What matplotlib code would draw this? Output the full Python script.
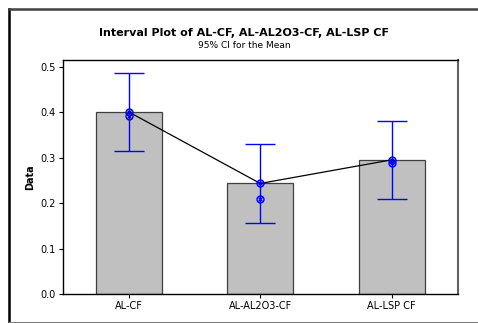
import matplotlib
matplotlib.use('Agg')
import matplotlib.pyplot as plt

groups = ['AL-CF', 'AL-AL2O3-CF', 'AL-LSP CF']
means = [0.401, 0.2435, 0.2955]
ci_low = [0.316, 0.157, 0.209]
ci_high = [0.486, 0.330, 0.382]
second = [0.393, 0.209, 0.288]

W, H = 478, 323
fig = plt.figure(figsize=(W / 100, H / 100), dpi=100)
fig.patch.set_facecolor('white')

# outer frame (top/left thick, bottom thin, right off-image)
fig.add_artist(plt.Line2D([9 / W, 9 / W], [1 - 9 / H, 1 - 322 / H], color='black', lw=1.8, transform=fig.transFigure))
fig.add_artist(plt.Line2D([9 / W, 1.0], [1 - 9 / H, 1 - 9 / H], color='#404040', lw=1.8, transform=fig.transFigure))
fig.add_artist(plt.Line2D([9 / W, 1.0], [1 - 322 / H, 1 - 322 / H], color='#808080', lw=0.8, transform=fig.transFigure))

ax = fig.add_axes([63 / W, 1 - 294 / H, (457.5 - 63) / W, (294 - 60) / H])
x = list(range(len(groups)))
ax.bar(x, means, width=0.5, color='#c0c0c0', edgecolor='#404040', linewidth=0.9, zorder=1)

yerr = [[m - l for m, l in zip(means, ci_low)], [h - m for m, h in zip(means, ci_high)]]
ax.errorbar(x, means, yerr=yerr, fmt='none', ecolor='#0000ff', elinewidth=1.0,
            capsize=10.5, capthick=1.0, zorder=3)
ax.plot(x, means, color='black', lw=0.9, zorder=2)
for yy in (means, second):
    ax.plot(x, yy, 'o', ms=5, mfc='none', mec='#0000ff', mew=1.0, zorder=4)
    ax.plot(x, yy, 'x', ms=3.2, mec='#0000ff', mew=0.9, zorder=4)

ax.set_xlim(-0.5, 2.5)
ax.set_ylim(0, 0.5154)
ax.set_yticks([0.0, 0.1, 0.2, 0.3, 0.4, 0.5])
ax.set_yticklabels(['0.0', '0.1', '0.2', '0.3', '0.4', '0.5'])
ax.set_xticks(x)
ax.set_xticklabels(groups)
ax.tick_params(labelsize=7, length=3, width=0.8, direction='out', colors='black', pad=2)
for s in ax.spines.values():
    s.set_linewidth(1.0)
ax.spines['right'].set_color('#606060')
ax.spines['right'].set_linewidth(1.5)

ax.set_ylabel('Data', fontsize=7, fontweight='bold', labelpad=4)

fig.text(244 / W, 1 - 33 / H, 'Interval Plot of AL-CF, AL-AL2O3-CF, AL-LSP CF',
         ha='center', va='center', fontsize=8, fontweight='bold')
fig.text(244 / W, 1 - 46 / H, '95% CI for the Mean', ha='center', va='center', fontsize=6.5)

fig.savefig('out.png', dpi=100)
